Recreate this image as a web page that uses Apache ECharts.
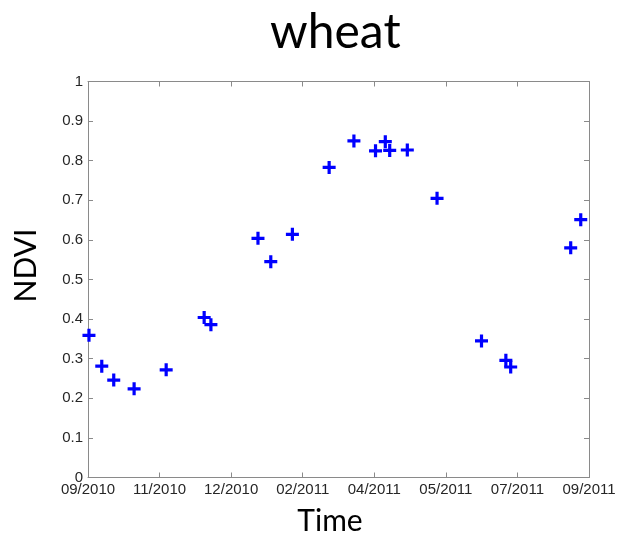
<!DOCTYPE html>
<html>
<head>
<meta charset="utf-8">
<script src="https://cdn.jsdelivr.net/npm/echarts@6/dist/echarts.min.js"></script>
<style>html,body{margin:0;padding:0;background:#fff;}#c{width:618px;height:534px;}</style>
</head>
<body>
<div id="c"></div>
<script>
// Days since 01 Sep 2010 (axis spans 0..364 in 7 equal steps)
const days = [0.7, 10.0, 18.7, 33.5, 56.8, 84.4, 89.3, 123.5, 132.8, 148.5, 175.2, 193.2, 208.9, 216.0, 219.2, 232.0, 253.6, 285.9, 303.6, 307.1, 350.7, 358.0];
const ndvi = [0.359, 0.281, 0.246, 0.224, 0.272, 0.404, 0.386, 0.604, 0.545, 0.614, 0.783, 0.850, 0.825, 0.848, 0.826, 0.827, 0.705, 0.345, 0.296, 0.279, 0.580, 0.651];
const xTickLabels = ['09/2010', '11/2010', '12/2010', '02/2011', '04/2011', '05/2011', '07/2011', '09/2011'];
const yTickLabels = ['0', '0.1', '0.2', '0.3', '0.4', '0.5', '0.6', '0.7', '0.8', '0.9', '1'];
const xStep = 52;

const chart = echarts.init(document.getElementById('c'), null, {renderer: 'canvas'});
const axisColor = '#8a8a8a';
const labelColor = '#262626';
const tickFont = 'Liberation Sans, Arial, sans-serif';

const pts = days.map((d, i) => [d, ndvi[i]]);

chart.setOption({
  animation: false,
  backgroundColor: '#fff',
  title: {
    text: 'wheat',
    left: 270,
    top: 9,
    padding: 0,
    textStyle: {fontFamily: 'Lato', fontWeight: 'normal', fontSize: 48, color: '#000'}
  },
  grid: {left: 88, right: 29, top: 81.5, bottom: 56.5, containLabel: false, outerBoundsMode: 'none'},
  xAxis: [{
    type: 'value', min: 0, max: xStep * 7, interval: xStep, position: 'bottom',
    name: 'Time', nameLocation: 'middle', nameGap: 29, nameMoveOverlap: false,
    nameTextStyle: {fontFamily: 'Lato', fontSize: 30, color: '#000', padding: [0, 17, 0, 0]},
    axisLine: {show: true, onZero: false, lineStyle: {color: axisColor, width: 1}},
    axisTick: {show: true, inside: true, length: 5, lineStyle: {color: axisColor}},
    axisLabel: {margin: 5, color: labelColor, fontSize: 15, fontFamily: tickFont,
      formatter: v => xTickLabels[Math.round(v / xStep)]},
    splitLine: {show: false}
  }, {
    type: 'value', min: 0, max: xStep * 7, interval: xStep, position: 'top',
    axisLine: {show: true, onZero: false, lineStyle: {color: axisColor, width: 1}},
    axisTick: {show: true, inside: true, length: 5, lineStyle: {color: axisColor}},
    axisLabel: {show: false}, splitLine: {show: false}
  }],
  yAxis: [{
    type: 'value', min: 0, max: 1, interval: 0.1, position: 'left',
    name: 'NDVI', nameLocation: 'middle', nameGap: 47, nameRotate: 90, nameMoveOverlap: false,
    nameTextStyle: {fontFamily: 'Lato', fontSize: 30, color: '#000', padding: [0, 0, 0, 28]},
    axisLine: {show: true, onZero: false, lineStyle: {color: axisColor, width: 1}},
    axisTick: {show: true, inside: true, length: 5, lineStyle: {color: axisColor}},
    axisLabel: {margin: 5, color: labelColor, fontSize: 15, fontFamily: tickFont,
      formatter: v => yTickLabels[Math.round(v * 10)]},
    splitLine: {show: false}
  }, {
    type: 'value', min: 0, max: 1, interval: 0.1, position: 'right',
    axisLine: {show: true, onZero: false, lineStyle: {color: axisColor, width: 1}},
    axisTick: {show: true, inside: true, length: 5, lineStyle: {color: axisColor}},
    axisLabel: {show: false}, splitLine: {show: false}
  }],
  series: [{
    type: 'scatter',
    xAxisIndex: 0, yAxisIndex: 0,
    data: pts,
    symbol: 'path://M-1.6,-6.5H1.6V-1.6H6.5V1.6H1.6V6.5H-1.6V1.6H-6.5V-1.6H-1.6Z',
    symbolSize: 13,
    itemStyle: {color: '#0000ff', opacity: 1},
    emphasis: {disabled: true}
  }]
});
</script>
</body>
</html>
